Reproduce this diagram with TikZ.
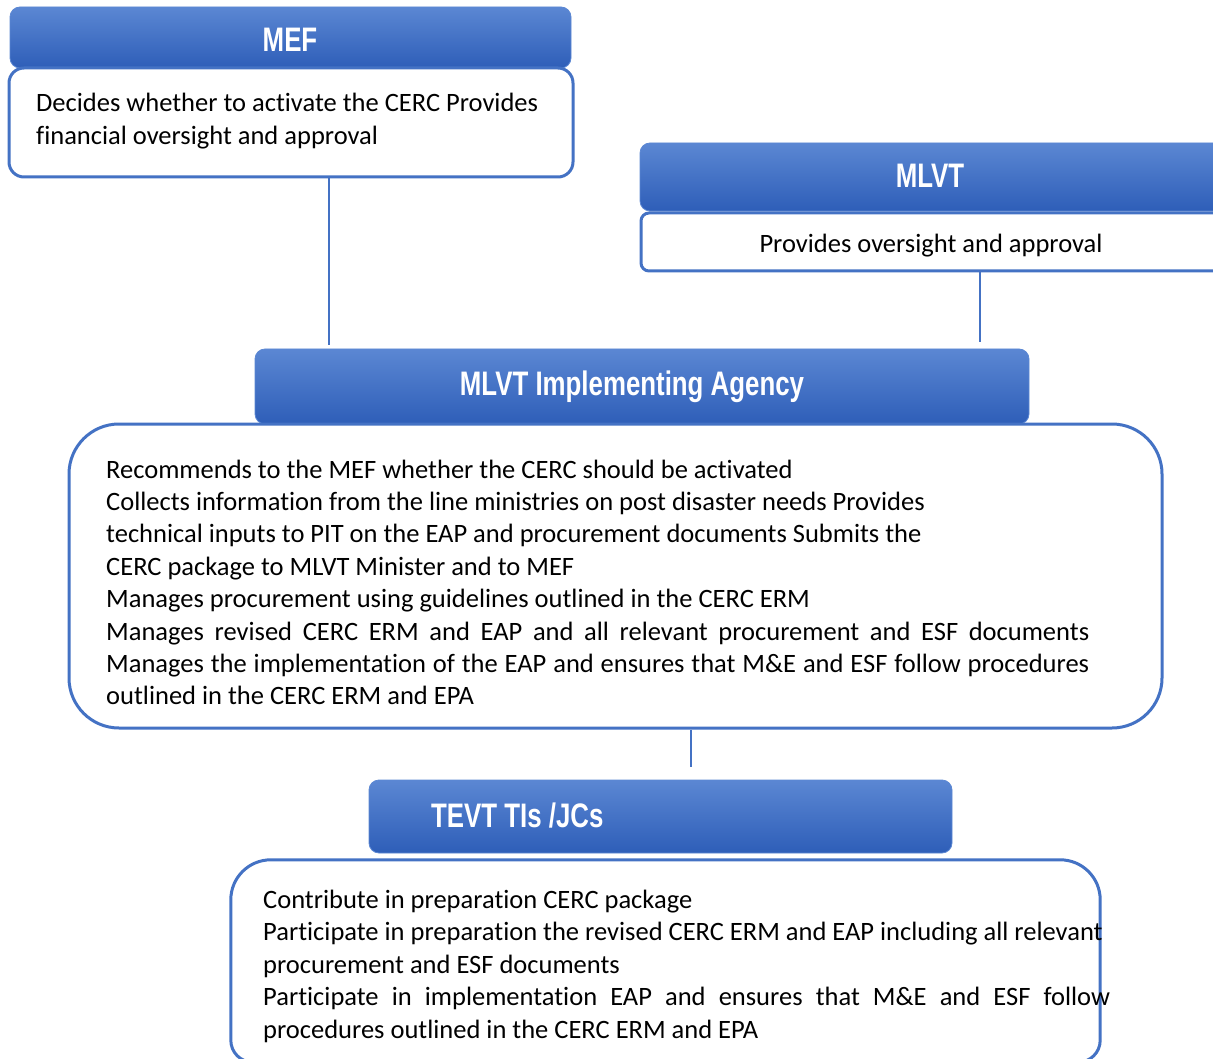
\documentclass[tikz,border=0pt]{standalone}
\usepackage{fontspec}
\setmainfont{Carlito}[Ligatures=NoCommon]
\newfontfamily\headfont[FakeStretch=0.76]{Liberation Sans}
\definecolor{bord}{HTML}{4472C4}
\definecolor{htop}{HTML}{5B87D3}
\definecolor{hbot}{HTML}{2E5EB8}
\begin{document}
\begin{tikzpicture}[x=1pt,y=-1pt,
  headbox/.style={rectangle, rounded corners=10pt, top color=htop, bottom color=hbot, draw=htop, line width=0.8pt, inner sep=0},
  bodybox/.style={rectangle, draw=bord, line width=3pt, fill=white, inner sep=0},
  bodyline/.style={draw=bord, line width=3pt},
  headtext/.style={text=white, font=\headfont\bfseries\fontsize{34}{40}\selectfont, inner sep=0, anchor=base},
  bodytext/.style={font=\fontsize{26.5}{32}\selectfont, inner sep=0, anchor=base west, text=black},
  conn/.style={draw=bord, line width=1.2pt}]
\useasboundingbox (0,0) rectangle (1213,1059);
\clip (0,0) rectangle (1213,1059);
% MEF
\node[headbox, minimum width=561pt, minimum height=61pt] (mefhead) at (290.5,37.5) {};
\node[bodybox, rounded corners=15pt, minimum width=564pt, minimum height=109pt] (mefbody) at (291,122.5) {};
\node[headtext] (meft) at (290,52) {MEF};
\node[bodytext] (mef1) at (36,112) {Decides whether to activate the CERC Provides};
\node[bodytext] (mef2) at (36,144.5) {financial oversight and approval};
% MLVT
\node[headbox, minimum width=585pt, minimum height=68pt] (mlvthead) at (932.5,177) {};
\node[bodybox, rounded corners=8pt, minimum width=584pt, minimum height=58pt] (mlvtbody) at (933,242) {};
\node[headtext] (mlvtt) at (930,188) {MLVT};
\node[bodytext, anchor=base] (mlvt1) at (931,253) {Provides oversight and approval};
% Agency
\node[headbox, minimum width=774pt, minimum height=75pt] (agyhead) at (642,386.5) {};
\node[bodybox, rounded corners=50pt, minimum width=1093pt, minimum height=304pt] (agybody) at (615.5,576) {};
\node[headtext] (agyt) at (632,395) {MLVT Implementing Agency};
\node[bodytext] (a1) at (106,478) {Recommends to the MEF whether the CERC should be activated};
\node[bodytext] (a2) at (106,510.4) {Collects information from the line ministries on post disaster needs Provides};
\node[bodytext] (a3) at (106,542.8) {technical inputs to PIT on the EAP and procurement documents Submits the};
\node[bodytext] (a4) at (106,575.2) {CERC package to MLVT Minister and to MEF};
\node[bodytext] (a5) at (106,607.6) {Manages procurement using guidelines outlined in the CERC ERM};
\node[bodytext] (a6) at (106,640) {\makebox[983pt][s]{Manages revised CERC ERM and EAP and all relevant procurement and ESF documents}};
\node[bodytext] (a7) at (106,672.4) {\makebox[983pt][s]{Manages the implementation of the EAP and ensures that M\&E and ESF follow procedures}};
\node[bodytext] (a8) at (106,704.8) {outlined in the CERC ERM and EPA};
% TEVT
\node[headbox, minimum width=583pt, minimum height=73pt] (tevthead) at (660.5,816.5) {};
\node[rectangle, fill=white, inner sep=0, minimum width=869pt, minimum height=202pt] (tevtbody) at (665.5,961) {};
\draw[bodyline, rounded corners=22pt] (tevtbody.south) -| (tevtbody.west)
  [rounded corners=40pt] |- (tevtbody.north) -| (tevtbody.east)
  [rounded corners=22pt] |- (tevtbody.south);
\node[headtext, anchor=base west] (tevtt) at (431,827) {TEVT TIs /JCs};
\node[bodytext] (t1) at (263,908) {Contribute in preparation CERC package};
\node[bodytext] (t2) at (263,940.5) {Participate in preparation the revised CERC ERM and EAP including all relevant};
\node[bodytext] (t3) at (263,973) {procurement and ESF documents};
\node[bodytext] (t4) at (263,1005.5) {\makebox[847pt][s]{Participate in implementation EAP and ensures that M\&E and ESF follow}};
\node[bodytext] (t5) at (263,1038) {procedures outlined in the CERC ERM and EPA};
% connectors
\coordinate (c1) at (329,345);
\coordinate (c2) at (980,342);
\coordinate (c3) at (691,767);
\draw[conn] (mefbody.south -| c1) -- (c1);
\draw[conn] (mlvtbody.south -| c2) -- (c2);
\draw[conn] (agybody.south -| c3) -- (c3);
\end{tikzpicture}
\end{document}
